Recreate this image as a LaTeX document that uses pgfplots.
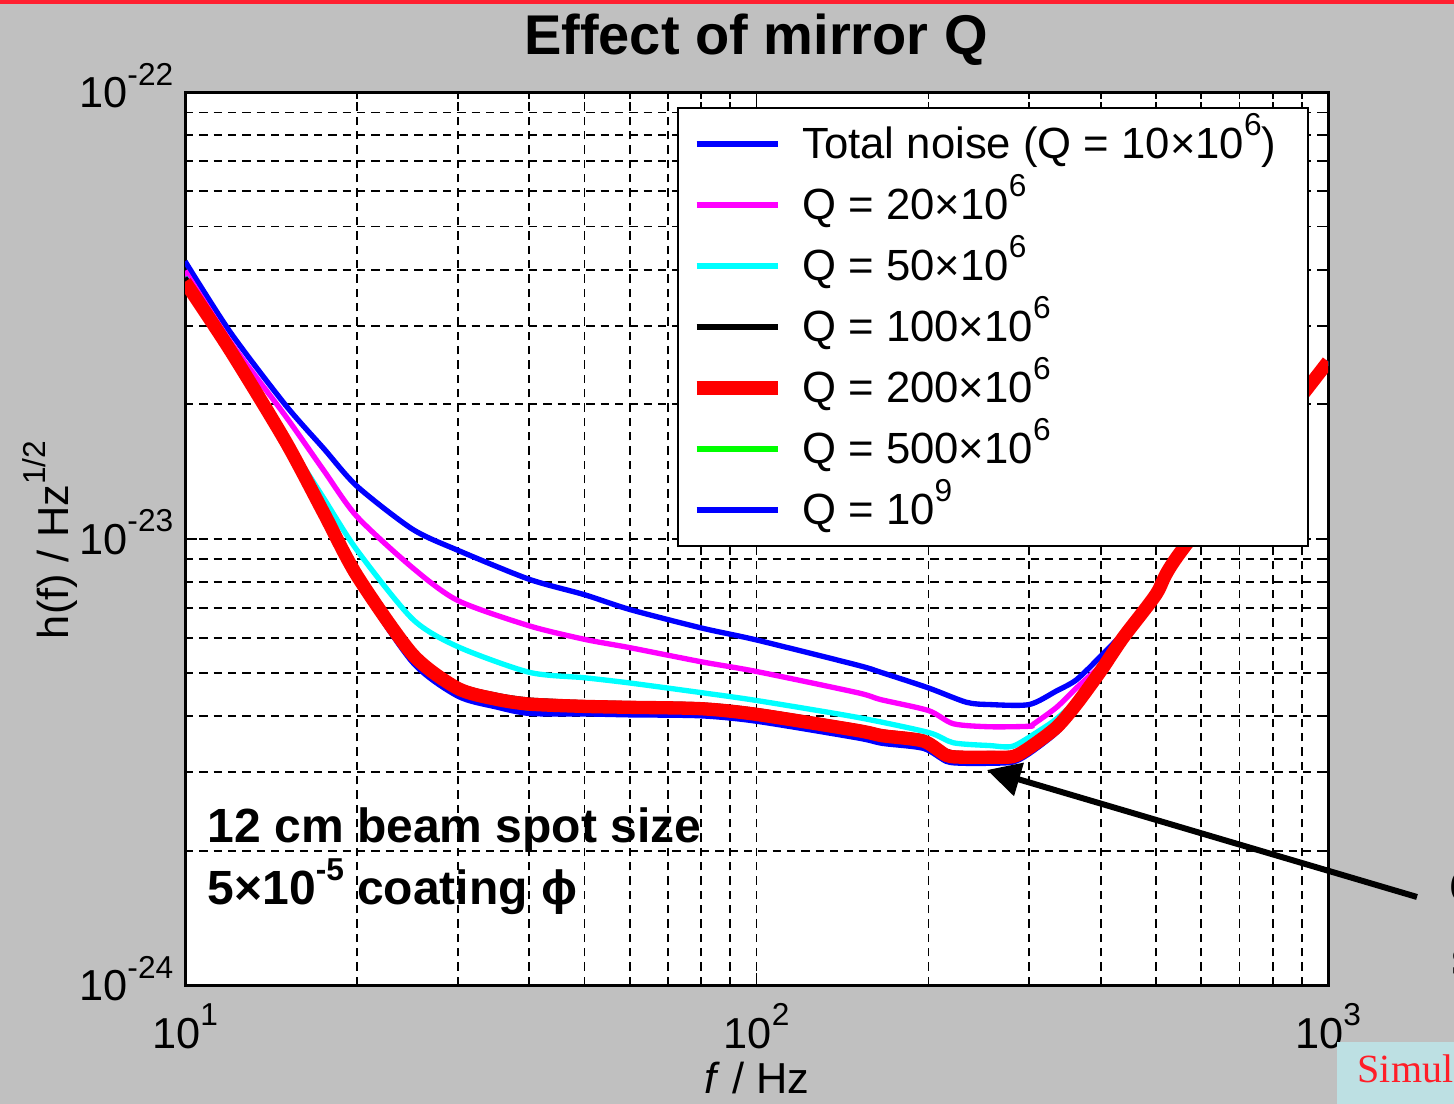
\documentclass[border=0pt]{standalone}
\usepackage{fontspec}
\setmainfont{Liberation Sans}
\newfontfamily\seriffont{Liberation Serif}
\usepackage{pgfplots}
\usepackage{pgfplotstable}
\pgfplotsset{compat=1.18}
\usetikzlibrary{arrows.meta}

\definecolor{figbg}{RGB}{192,192,192}
\definecolor{topbar}{RGB}{255,32,48}
\definecolor{notebox}{RGB}{189,224,227}
\definecolor{notetext}{RGB}{255,30,40}
\definecolor{qblue}{RGB}{0,0,255}
\definecolor{qmagenta}{RGB}{255,0,255}
\definecolor{qcyan}{RGB}{0,255,255}
\definecolor{qgreen}{RGB}{0,255,0}
\definecolor{qred}{RGB}{255,0,0}

% raised exponent in the text font
\newcommand{\sups}[1]{\raisebox{0.52em}{\fontsize{9.5}{10}\selectfont #1}}

% strain noise h(f) in 1/sqrt(Hz) against frequency in Hz
\pgfplotstableread{
f h
10 41.8e-24
12 29.0e-24
15 19.9e-24
17.5 15.9e-24
20 13.1e-24
25 10.5e-24
30 9.42e-24
40 8.11e-24
50 7.49e-24
60 6.94e-24
80 6.31e-24
100 5.93e-24
150 5.21e-24
165 5.02e-24
200 4.63e-24
233 4.30e-24
256 4.25e-24
300 4.25e-24
335 4.56e-24
363 4.83e-24
400 5.45e-24
438 6.15e-24
500 7.55e-24
551 9.3e-24
938 22.4e-24
1000 24.9e-24
}\qtotal

\pgfplotstableread{
f h
10 39.8e-24
12 27.6e-24
15 18.8e-24
17.5 14.2e-24
20 11.2e-24
25 8.61e-24
30 7.27e-24
40 6.38e-24
50 5.95e-24
60 5.70e-24
80 5.30e-24
100 5.04e-24
150 4.52e-24
165 4.36e-24
200 4.12e-24
221 3.85e-24
256 3.79e-24
300 3.80e-24
305 3.84e-24
335 4.19e-24
363 4.63e-24
400 5.20e-24
438 6.02e-24
500 7.5e-24
551 9.3e-24
938 22.4e-24
1000 24.9e-24
}\qtwenty

\pgfplotstableread{
f h
10 38.5e-24
12 26.8e-24
15 16.8e-24
17.5 12.3e-24
20 9.42e-24
25 6.61e-24
30 5.73e-24
40 5.02e-24
50 4.88e-24
60 4.75e-24
80 4.52e-24
100 4.34e-24
150 3.98e-24
200 3.68e-24
221 3.49e-24
256 3.44e-24
281 3.43e-24
313 3.72e-24
335 3.95e-24
363 4.35e-24
400 5.08e-24
438 6.0e-24
500 7.5e-24
551 9.3e-24
938 22.4e-24
1000 24.9e-24
}\qfifty

\pgfplotstableread{
f h
10 38.4e-24
12 26.9e-24
15 16.8e-24
17.5 11.6e-24
20 8.43e-24
25 5.62e-24
30 4.71e-24
35 4.46e-24
40 4.35e-24
50 4.29e-24
60 4.27e-24
80 4.24e-24
100 4.12e-24
150 3.79e-24
166 3.69e-24
196 3.59e-24
215 3.34e-24
230 3.30e-24
256 3.30e-24
281 3.31e-24
300 3.46e-24
335 3.84e-24
363 4.32e-24
400 5.08e-24
438 6.0e-24
500 7.5e-24
551 9.3e-24
938 22.4e-24
1000 24.9e-24
}\qhundred

\pgfplotstableread{
f h
10 37.6e-24
12 26.4e-24
15 16.5e-24
17.5 11.4e-24
20 8.26e-24
25 5.51e-24
30 4.62e-24
35 4.37e-24
40 4.26e-24
50 4.21e-24
60 4.19e-24
80 4.16e-24
100 4.04e-24
150 3.72e-24
166 3.62e-24
196 3.52e-24
215 3.27e-24
230 3.24e-24
256 3.24e-24
281 3.25e-24
300 3.40e-24
335 3.78e-24
363 4.26e-24
400 5.05e-24
438 6.0e-24
500 7.5e-24
551 9.3e-24
938 22.4e-24
1000 24.9e-24
}\qtwohundred

\pgfplotstableread{
f h
10 37.1e-24
12 26.0e-24
15 16.3e-24
17.5 11.2e-24
20 8.14e-24
25 5.43e-24
30 4.55e-24
35 4.28e-24
40 4.12e-24
50 4.08e-24
60 4.12e-24
80 4.10e-24
100 3.98e-24
150 3.66e-24
166 3.56e-24
196 3.47e-24
215 3.22e-24
230 3.19e-24
256 3.19e-24
281 3.20e-24
300 3.35e-24
335 3.73e-24
363 4.21e-24
400 5.03e-24
438 6.0e-24
500 7.5e-24
551 9.3e-24
938 22.4e-24
1000 24.9e-24
}\qfivehundred

\pgfplotstableread{
f h
10 37.0e-24
12 26.0e-24
15 16.25e-24
17.5 11.2e-24
20 8.05e-24
25 5.29e-24
30 4.44e-24
35 4.20e-24
40 4.06e-24
50 4.05e-24
60 4.03e-24
80 4.01e-24
100 3.90e-24
150 3.58e-24
166 3.48e-24
196 3.39e-24
215 3.17e-24
230 3.14e-24
256 3.14e-24
281 3.16e-24
300 3.30e-24
335 3.68e-24
363 4.16e-24
400 5.0e-24
438 6.0e-24
500 7.5e-24
551 9.3e-24
938 22.4e-24
1000 24.9e-24
}\qbillion

\begin{document}
\begin{tikzpicture}
\useasboundingbox (0,0) rectangle (436.2pt,331.2pt);
\fill[figbg] (0,0) rectangle (436.2pt,331.2pt);
\fill[topbar] (0,329.85pt) rectangle (436.2pt,331.2pt);

\begin{axis}[
  at={(55.5pt,35.7pt)}, anchor=south west,
  scale only axis, width=342.9pt, height=267.9pt,
  xmode=log, ymode=log,
  xmin=10, xmax=1000, ymin=1e-24, ymax=1e-22,
  axis background/.style={fill=white},
  axis line style={line width=0.9pt, black},
  xtick={10,100,1000},
  xticklabels={{10\sups{1}},{10\sups{2}},{10\sups{3}}},
  ytick={1e-24,1e-23,1e-22},
  yticklabels={{10\sups{-24}},{10\sups{-23}},{10\sups{-22}}},
  minor xtick={20,30,40,50,60,70,80,90,200,300,400,500,600,700,800,900},
  minor ytick={2e-24,3e-24,4e-24,5e-24,6e-24,7e-24,8e-24,9e-24,
               2e-23,3e-23,4e-23,5e-23,6e-23,7e-23,8e-23,9e-23},
  grid=both,
  major grid style={black, line width=0.55pt, dash pattern=on 2.5pt off 1.8pt},
  minor grid style={black, line width=0.55pt, dash pattern=on 2.5pt off 1.8pt},
  tick align=inside,
  major tick length=3.6pt, minor tick length=2.1pt,
  tick style={black, line width=0.55pt},
  tick label style={font=\fontsize{13}{15}\selectfont},
  xticklabel style={anchor=base, yshift=-18.9pt},
  yticklabel style={anchor=base east, yshift=-4.65pt},
  every axis plot/.append style={smooth, tension=0.45},
  legend cell align=left,
  legend image code/.code={\draw[#1] (0pt,0pt) -- (24.3pt,0pt);},
  legend style={at={(rel axis cs:0.4302,0.9835)}, anchor=north west,
    draw=black, line width=0.6pt, fill=white,
    inner xsep=3.7pt, inner ysep=2.15pt, row sep=1pt,
    font=\fontsize{13.1}{15}\selectfont,
    nodes={inner sep=2pt, text height=11pt, text depth=2.3pt},
    /tikz/every odd column/.append style={column sep=3.4pt}},
]
% curves, with the thick Q = 200e6 curve on top
\addplot[qblue, line width=1.6pt, forget plot] table[x=f,y=h] {\qtotal};
\addplot[qmagenta, line width=1.6pt, forget plot] table[x=f,y=h] {\qtwenty};
\addplot[qcyan, line width=1.6pt, forget plot] table[x=f,y=h] {\qfifty};
\addplot[black, line width=1.6pt, forget plot] table[x=f,y=h] {\qhundred};
\addplot[qgreen, line width=1.6pt, forget plot] table[x=f,y=h] {\qfivehundred};
\addplot[qblue, line width=1.6pt, forget plot] table[x=f,y=h] {\qbillion};
\addplot[qred, line width=4pt, forget plot] table[x=f,y=h] {\qtwohundred};

\addlegendimage{qblue, line width=1.6pt, sharp plot}
\addlegendentry{Total noise (Q = 10×10\sups{6})\rule{3.8pt}{0pt}}
\addlegendimage{qmagenta, line width=1.6pt, sharp plot}
\addlegendentry{Q = 20×10\sups{6}}
\addlegendimage{qcyan, line width=1.6pt, sharp plot}
\addlegendentry{Q = 50×10\sups{6}}
\addlegendimage{black, line width=1.6pt, sharp plot}
\addlegendentry{Q = 100×10\sups{6}}
\addlegendimage{qred, line width=4pt, sharp plot}
\addlegendentry{Q = 200×10\sups{6}}
\addlegendimage{qgreen, line width=1.6pt, sharp plot}
\addlegendentry{Q = 500×10\sups{6}}
\addlegendimage{qblue, line width=1.6pt, sharp plot}
\addlegendentry{Q = 10\sups{9}}
\end{axis}

% title and axis labels
\node[anchor=base, inner sep=0, font=\bfseries\fontsize{16.8}{20}\selectfont]
  at (226.8pt,314.7pt) {Effect of mirror Q};
\node[anchor=base, inner sep=0, font=\fontsize{13}{15}\selectfont]
  at (227.1pt,3.0pt) {\textit{f} / Hz};
\node[rotate=90, anchor=base, inner sep=0, font=\fontsize{13}{15}\selectfont]
  at (20.4pt,169.2pt) {h(f) / Hz\sups{1/2}};

% parameters of the model
\node[anchor=base west, inner sep=0, font=\bfseries\fontsize{14.4}{16}\selectfont]
  at (62.1pt,78.3pt) {12 cm beam spot size};
\node[anchor=base west, inner sep=0, font=\bfseries\fontsize{14.4}{16}\selectfont]
  at (62.1pt,59.7pt) {5×10\sups{-5} coating ϕ};

% pointer to the noise minimum
\draw[black, line width=1.8pt, -{Triangle[length=10pt,width=10pt]}]
  (425.1pt,62.1pt) -- (296.1pt,100.2pt);

% slide text running off the right edge
\node[anchor=base west, inner sep=0, font=\seriffont\fontsize{16}{18}\selectfont]
  at (434.7pt,59.7pt) {C};
\node[anchor=base west, inner sep=0, font=\seriffont\fontsize{16}{18}\selectfont]
  at (435.3pt,38.7pt) {s};
\fill[notebox] (401.1pt,0) rectangle (436.2pt,18.6pt);
\node[anchor=base west, inner sep=0, text=notetext, font=\seriffont\fontsize{12}{14}\selectfont]
  at (407.1pt,6.3pt) {Simulation};
\end{tikzpicture}
\end{document}
